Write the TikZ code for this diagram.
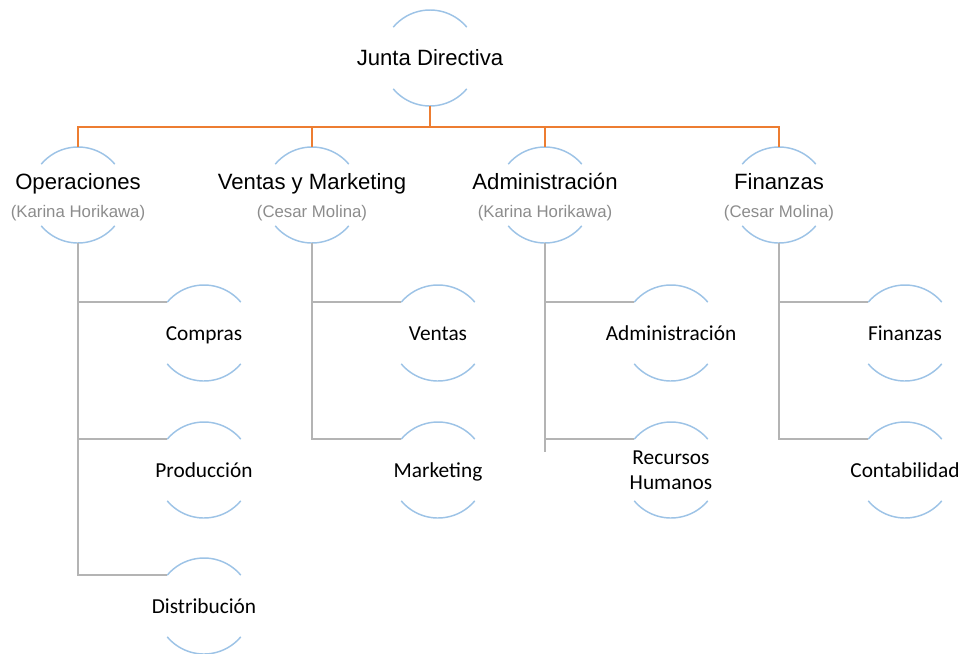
\documentclass[tikz,border=0pt]{standalone}
\usepackage{fontspec}
\setmainfont{Liberation Sans}
\newfontfamily\calibri{Carlito}
\definecolor{arco}{HTML}{9DC3E6}
\definecolor{naranja}{HTML}{ED7D31}
\definecolor{gris}{HTML}{B4B4B4}
\definecolor{nombre}{HTML}{8C8C8C}

\begin{document}
\begin{tikzpicture}[x=0.75pt,y=-0.75pt,
    unidad/.style={circle,minimum size=72pt,inner sep=0pt,outer sep=0pt},
    titulo/.style={font=\fontsize{16.6}{19}\selectfont,text height=0.75em,text depth=0.22em},
    persona/.style={font=\fontsize{12.6}{15}\selectfont,text=nombre,text height=0.75em,text depth=0.22em},
    letra/.style={font=\calibri\fontsize{16}{18.75}\selectfont,align=center},
    area/.style={letra,text height=0.7em,text depth=0.22em,yshift=-3pt},
    rama/.style={naranja,line width=1.1pt},
    linea/.style={gris,line width=1.1pt},
    borde/.style={arco,line width=1.1pt}
]
    \useasboundingbox (0,0) rectangle (969,653);
    \def\r{36pt}
    % junta
    \node [unidad,label={[titulo,yshift=-3pt]center:Junta Directiva}] (jd) at (430,58) {};
    % departamentos
    \node [unidad,label={[titulo,yshift=6.75pt]center:Operaciones},
        label={[persona,yshift=-14.25pt]center:(Karina Horikawa)}] (op) at (78,195) {};
    \node [unidad,label={[titulo,yshift=6.75pt]center:Ventas y Marketing},
        label={[persona,yshift=-14.25pt]center:(Cesar Molina)}] (vm) at (312,195) {};
    \node [unidad,label={[titulo,yshift=6.75pt]center:Administración},
        label={[persona,yshift=-14.25pt]center:(Karina Horikawa)}] (ad) at (545,195) {};
    \node [unidad,label={[titulo,yshift=6.75pt]center:Finanzas},
        label={[persona,yshift=-14.25pt]center:(Cesar Molina)}] (fi) at (779,195) {};
    % areas
    \node [unidad,label={[area]center:Compras}] (co) at (204,333) {};
    \node [unidad,label={[area]center:Producción}] (pr) at (204,470) {};
    \node [unidad,label={[area]center:Distribución}] (di) at (204,606) {};
    \node [unidad,label={[area]center:Ventas}] (ve) at (438,333) {};
    \node [unidad,label={[area]center:Marketing}] (ma) at (438,470) {};
    \node [unidad,label={[area]center:Administración}] (adm) at (671,333) {};
    \node [unidad,label={[letra]center:{Recursos\\Humanos}}] (rh) at (671,470) {};
    \node [unidad,label={[area]center:Finanzas}] (fin) at (905,333) {};
    \node [unidad,label={[area]center:Contabilidad}] (con) at (905,470) {};

    % arcos arriba y abajo
    \foreach \n in {jd,op,vm,ad,fi,co,pr,di,ve,ma,adm,rh,fin,con}
        \draw [borde] (\n.40) arc [start angle=40,end angle=140,radius=\r]
                      (\n.220) arc [start angle=220,end angle=320,radius=\r];

    \foreach \n in {op,vm,ad,fi}
        \draw [rama] (jd.south) -- ([yshift=-15.75pt]jd.south) -| (\n.north);

    \foreach \a/\b in {op/co,op/pr,op/di,vm/ve,vm/ma,ad/adm,ad/rh,fi/fin,fi/con}
        \draw [linea] (\a.south) |- (\b.140);
    \draw [linea] (ad.south) -- ([yshift=-9.75pt]rh.140 -| ad.south);
\end{tikzpicture}
\end{document}
